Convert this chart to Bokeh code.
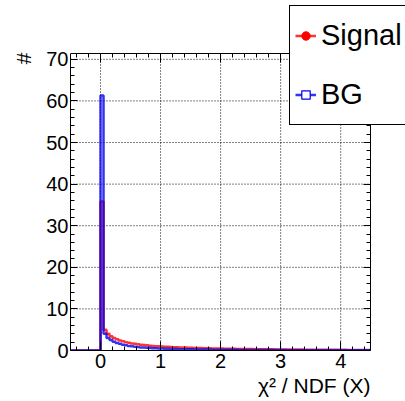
import numpy as np
from bokeh.plotting import figure
from bokeh.models import (Range1d, LinearAxis, SingleIntervalTicker, Legend, LegendItem,
                          ColumnDataSource, Title, CustomLabelingPolicy, Grid)
from bokeh.embed import file_html
from bokeh.resources import INLINE

# histogram bins: width 0.05 from -0.5 to 4.5 (first 10 bins, below 0, are empty)
bin_lo = -0.5
bin_w = 0.05
empty_bins = [0.0] * 10
signal = [35.8, 5.0, 4.0, 3.4, 3.0, 2.7, 2.4, 2.2, 2.0, 1.85,
          1.7, 1.6, 1.5, 1.4, 1.3, 1.25, 1.15, 1.1, 1.05, 1.0,
          0.95, 0.9, 0.88, 0.85, 0.8, 0.78, 0.75, 0.72, 0.7, 0.68,
          0.65, 0.62, 0.6, 0.58, 0.55, 0.54, 0.52, 0.5, 0.49, 0.47,
          0.46, 0.44, 0.43, 0.42, 0.4, 0.39, 0.38, 0.37, 0.36, 0.35,
          0.34, 0.33, 0.32, 0.31, 0.3, 0.3, 0.29, 0.28, 0.27, 0.27,
          0.26, 0.25, 0.25, 0.24, 0.24, 0.23, 0.22, 0.22, 0.21, 0.21,
          0.2, 0.2, 0.19, 0.19, 0.18, 0.18, 0.18, 0.17, 0.17, 0.16,
          0.16, 0.16, 0.15, 0.15, 0.15, 0.14, 0.14, 0.14, 0.13, 0.13]
bg = [61.3, 4.0, 3.0, 2.5, 2.1, 1.8, 1.6, 1.4, 1.25, 1.1,
      1.0, 0.9, 0.82, 0.75, 0.7, 0.65, 0.6, 0.56, 0.52, 0.49,
      0.46, 0.43, 0.41, 0.39, 0.37, 0.35, 0.33, 0.32, 0.3, 0.29,
      0.28, 0.27, 0.26, 0.25, 0.24, 0.23, 0.22, 0.21, 0.2, 0.2,
      0.19, 0.18, 0.18, 0.17, 0.16, 0.16, 0.15, 0.15, 0.14, 0.14,
      0.13, 0.13, 0.12, 0.12, 0.12, 0.11, 0.11, 0.11, 0.1, 0.1,
      0.1, 0.1, 0.09, 0.09, 0.09, 0.09, 0.08, 0.08, 0.08, 0.08,
      0.07, 0.07, 0.07, 0.07, 0.07, 0.06, 0.06, 0.06, 0.06, 0.06,
      0.06, 0.05, 0.05, 0.05, 0.05, 0.05, 0.05, 0.04, 0.04, 0.04]
series_names = ["Signal", "BG"]
x_ticks = [0, 1, 2, 3, 4]
y_ticks = [10, 20, 30, 40, 50, 60, 70]
x_title = "χ² / NDF (X)"
y_title = "#"

# axis box limits (data units)
x_lo, x_hi = -0.5, 4.5
y_lo, y_hi = 0.0, 71.4

sig_all = empty_bins + signal
bg_all = empty_bins + bg
edges = bin_lo + bin_w * np.arange(len(sig_all) + 1)

# pixel geometry: plotting frame is larger than the axis box so the legend can overlap it
W, H = 405, 401
box_l, box_r, box_t, box_b = 68, 370, 53, 350
frame_t, frame_r = 5, 405
px_x = (box_r - box_l) / (x_hi - x_lo)
px_y = (box_b - box_t) / (y_hi - y_lo)
x_end = x_hi + (frame_r - box_r) / px_x
y_end = y_hi + (box_t - frame_t) / px_y

FONT = "Liberation Sans"
FS_TICK = "20px"
FS_TITLE = "21px"

p = figure(width=W, height=H, output_backend="svg", toolbar_location=None,
           x_range=Range1d(x_lo, x_end), y_range=Range1d(y_lo, y_end),
           min_border_left=box_l, min_border_right=W - frame_r, min_border_top=frame_t,
           min_border_bottom=H - box_b,
           x_axis_location=None, y_axis_location=None)
p.background_fill_color = "white"
p.border_fill_color = "white"
p.outline_line_color = None
# drop default grids (our own dotted grid is bounded to the axis box)
p.center = [c for c in p.center if not isinstance(c, Grid)]

no_labels = CustomLabelingPolicy(code="return new Set()")

def mk_axis(interval, bounds, labels=True, fixed=None):
    kw = {}
    if fixed is not None:
        kw["fixed_location"] = fixed
    ax = LinearAxis(ticker=SingleIntervalTicker(interval=interval, num_minor_ticks=5),
                    bounds=bounds, **kw)
    ax.major_tick_in = 9
    ax.major_tick_out = 0
    ax.minor_tick_in = 4
    ax.minor_tick_out = 0
    ax.axis_line_color = "black"
    ax.axis_line_width = 1
    ax.major_tick_line_color = "black"
    ax.minor_tick_line_color = "black"
    ax.major_label_text_font = FONT
    ax.major_label_text_color = "black"
    ax.major_label_text_font_size = FS_TICK
    if not labels:
        ax.major_label_policy = no_labels
    return ax

# grid lines (dotted), drawn first so they lie under everything
p.segment(x0=x_ticks, y0=y_lo, x1=x_ticks, y1=y_hi, line_color="black",
          line_dash="1 2", line_width=1)
p.segment(x0=x_lo, y0=y_ticks, x1=x_hi, y1=y_ticks, line_color="black",
          line_dash="1 2", line_width=1)

xb = mk_axis(1, (x_lo, x_hi))
xb.major_label_standoff = 3
yl = mk_axis(10, (y_lo, y_hi))
yl.major_tick_in = 7
yl.major_label_standoff = 2
xt = mk_axis(1, (x_lo, x_hi), labels=False, fixed=y_hi)
yr = mk_axis(10, (y_lo, y_hi), labels=False, fixed=x_hi)
yr.major_tick_in = 7
p.add_layout(xb, "below")
p.add_layout(yl, "left")
p.add_layout(xt, "above")
p.add_layout(yr, "right")

src_s = ColumnDataSource(dict(x=edges, y=sig_all + [sig_all[-1]]))
src_b = ColumnDataSource(dict(x=edges, y=bg_all + [bg_all[-1]]))

r_s = p.step("x", "y", source=src_s, mode="after", line_color="#ff0000", line_width=2.5, line_alpha=0.8)
r_b = p.step("x", "y", source=src_b, mode="after", line_color="#0000ee", line_width=2.5, line_alpha=0.8)

# marker renderers used only for the legend symbols (hidden in the plot)
m_s = p.scatter("x", "y", source=src_s, marker="circle",
                size=4, fill_color="#ff0000", line_color="#ff0000", visible=False)
m_b = p.scatter("x", "y", source=src_b, marker="square",
                size=4, fill_color="white", line_color="#0000ee", line_width=1.2, visible=False)

leg_l, leg_b = 287, 125
leg = Legend(items=[LegendItem(label=series_names[0], renderers=[r_s, m_s]),
                    LegendItem(label=series_names[1], renderers=[r_b, m_b])],
             location=(leg_l - box_l, box_b - leg_b), padding=5, margin=0, spacing=10,
             glyph_width=21, glyph_height=49, label_height=49, label_standoff=5,
             label_text_font=FONT, label_text_font_size="29px", label_text_color="black",
             border_line_color="black", border_line_width=1, border_line_alpha=1.0,
             background_fill_color="white", background_fill_alpha=1.0,
             inactive_fill_alpha=0.0)
p.add_layout(leg, "center")

xtitle = Title(text=x_title, align="right", text_font=FONT, text_font_size=FS_TITLE,
               text_font_style="normal", text_color="black", standoff=2,
               offset=(frame_r - box_r))
p.add_layout(xtitle, "below")
ytitle = Title(text=y_title, align="right", text_font=FONT, text_font_size=FS_TITLE,
               text_font_style="normal", text_color="black", standoff=18,
               offset=(box_t - frame_t - 1))
p.add_layout(ytitle, "left")

open("out.html", "w").write(file_html(p, INLINE))
